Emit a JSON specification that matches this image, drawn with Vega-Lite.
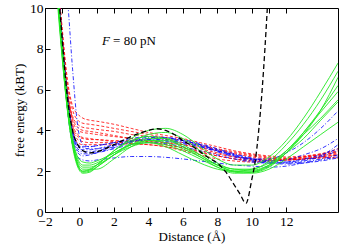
{
"$schema":"https://vega.github.io/schema/vega-lite/v6.json",
"width":293,"height":204,"autosize":"none",
"padding":{"left":45,"top":8,"right":8,"bottom":32},
"config":{"view":{"stroke":"#000","strokeWidth":1},"font":"Liberation Serif",
"axis":{"labelFont":"Liberation Serif","titleFont":"Liberation Serif","labelFontSize":13.5,"titleFontSize":13,"titleFontWeight":"normal","labelColor":"#000","titleColor":"#000","tickColor":"#000","domain":false,"grid":false}},
"datasets":{
"green":[
{"s":1,"x":-1.3,"y":11},{"s":1,"x":-1,"y":7.8},{"s":1,"x":-0.7,"y":5.2},{"s":1,"x":-0.4,"y":3.4},{"s":1,"x":-0.1,"y":2.3},{"s":1,"x":0.2,"y":2.0},{"s":1,"x":0.6,"y":2.05},{"s":1,"x":1,"y":2.3},{"s":1,"x":2,"y":3.0},{"s":1,"x":3,"y":3.6},{"s":1,"x":4,"y":4.0},{"s":1,"x":5,"y":4.1},{"s":1,"x":6,"y":3.8},{"s":1,"x":7,"y":3.2},{"s":1,"x":8,"y":2.6},{"s":1,"x":9,"y":2.3},{"s":1,"x":10,"y":2.3},{"s":1,"x":11,"y":2.7},{"s":1,"x":12,"y":3.5},{"s":1,"x":13,"y":4.6},{"s":1,"x":14,"y":5.9},{"s":1,"x":15,"y":7.3},
{"s":2,"x":-1.3,"y":11.5},{"s":2,"x":-1,"y":8.2},{"s":2,"x":-0.7,"y":5.5},{"s":2,"x":-0.4,"y":3.5},{"s":2,"x":-0.1,"y":2.3},{"s":2,"x":0.2,"y":1.95},{"s":2,"x":0.6,"y":2.0},{"s":2,"x":1,"y":2.2},{"s":2,"x":2,"y":2.8},{"s":2,"x":3,"y":3.4},{"s":2,"x":4,"y":3.8},{"s":2,"x":5,"y":3.9},{"s":2,"x":6,"y":3.6},{"s":2,"x":7,"y":3.0},{"s":2,"x":8,"y":2.4},{"s":2,"x":9,"y":2.1},{"s":2,"x":10,"y":2.1},{"s":2,"x":11,"y":2.5},{"s":2,"x":12,"y":3.3},{"s":2,"x":13,"y":4.3},{"s":2,"x":14,"y":5.5},{"s":2,"x":15,"y":6.9},
{"s":3,"x":-1.3,"y":10.8},{"s":3,"x":-1,"y":7.6},{"s":3,"x":-0.7,"y":5.0},{"s":3,"x":-0.4,"y":3.2},{"s":3,"x":-0.1,"y":2.2},{"s":3,"x":0.2,"y":1.9},{"s":3,"x":0.6,"y":1.95},{"s":3,"x":1,"y":2.2},{"s":3,"x":2,"y":2.8},{"s":3,"x":3,"y":3.3},{"s":3,"x":4,"y":3.6},{"s":3,"x":5,"y":3.6},{"s":3,"x":6,"y":3.3},{"s":3,"x":7,"y":2.8},{"s":3,"x":8,"y":2.3},{"s":3,"x":9,"y":2.0},{"s":3,"x":10,"y":1.95},{"s":3,"x":11,"y":2.2},{"s":3,"x":12,"y":2.9},{"s":3,"x":13,"y":3.9},{"s":3,"x":14,"y":5.0},{"s":3,"x":15,"y":6.2},
{"s":4,"x":-1.3,"y":11.2},{"s":4,"x":-1,"y":7.9},{"s":4,"x":-0.7,"y":5.3},{"s":4,"x":-0.4,"y":3.4},{"s":4,"x":-0.1,"y":2.4},{"s":4,"x":0.2,"y":2.1},{"s":4,"x":0.6,"y":2.1},{"s":4,"x":1,"y":2.1},{"s":4,"x":2,"y":2.6},{"s":4,"x":3,"y":3.2},{"s":4,"x":4,"y":3.5},{"s":4,"x":5,"y":3.5},{"s":4,"x":6,"y":3.2},{"s":4,"x":7,"y":2.8},{"s":4,"x":8,"y":2.3},{"s":4,"x":9,"y":2.0},{"s":4,"x":10,"y":2.0},{"s":4,"x":11,"y":2.3},{"s":4,"x":12,"y":3.0},{"s":4,"x":13,"y":3.9},{"s":4,"x":14,"y":4.9},{"s":4,"x":15,"y":5.9},
{"s":5,"x":-1.3,"y":11},{"s":5,"x":-1,"y":7.8},{"s":5,"x":-0.7,"y":5.2},{"s":5,"x":-0.4,"y":3.5},{"s":5,"x":-0.1,"y":2.6},{"s":5,"x":0.2,"y":2.3},{"s":5,"x":0.6,"y":2.3},{"s":5,"x":1,"y":2.4},{"s":5,"x":2,"y":2.9},{"s":5,"x":3,"y":3.3},{"s":5,"x":4,"y":3.5},{"s":5,"x":5,"y":3.4},{"s":5,"x":6,"y":3.1},{"s":5,"x":7,"y":2.7},{"s":5,"x":8,"y":2.3},{"s":5,"x":9,"y":2.1},{"s":5,"x":10,"y":2.05},{"s":5,"x":11,"y":2.3},{"s":5,"x":12,"y":2.9},{"s":5,"x":13,"y":3.6},{"s":5,"x":14,"y":4.5},{"s":5,"x":15,"y":5.4},
{"s":6,"x":-1.3,"y":10.5},{"s":6,"x":-1,"y":7.5},{"s":6,"x":-0.7,"y":5.0},{"s":6,"x":-0.4,"y":3.3},{"s":6,"x":-0.1,"y":2.5},{"s":6,"x":0.2,"y":2.2},{"s":6,"x":0.6,"y":2.2},{"s":6,"x":1,"y":2.3},{"s":6,"x":2,"y":2.8},{"s":6,"x":3,"y":3.2},{"s":6,"x":4,"y":3.4},{"s":6,"x":5,"y":3.3},{"s":6,"x":6,"y":3.0},{"s":6,"x":7,"y":2.6},{"s":6,"x":8,"y":2.2},{"s":6,"x":9,"y":1.95},{"s":6,"x":10,"y":1.9},{"s":6,"x":11,"y":2.1},{"s":6,"x":12,"y":2.6},{"s":6,"x":13,"y":3.2},{"s":6,"x":14,"y":3.8},{"s":6,"x":15,"y":4.4},
{"s":7,"x":-1.3,"y":11.3},{"s":7,"x":-1,"y":8.0},{"s":7,"x":-0.7,"y":5.4},{"s":7,"x":-0.4,"y":3.6},{"s":7,"x":-0.1,"y":2.7},{"s":7,"x":0.2,"y":2.45},{"s":7,"x":0.6,"y":2.4},{"s":7,"x":1,"y":2.5},{"s":7,"x":2,"y":2.9},{"s":7,"x":3,"y":3.3},{"s":7,"x":4,"y":3.4},{"s":7,"x":5,"y":3.2},{"s":7,"x":6,"y":2.8},{"s":7,"x":7,"y":2.4},{"s":7,"x":8,"y":2.1},{"s":7,"x":9,"y":2.0},{"s":7,"x":10,"y":2.1},{"s":7,"x":11,"y":2.4},{"s":7,"x":12,"y":3.0},{"s":7,"x":13,"y":3.8},{"s":7,"x":14,"y":4.6},{"s":7,"x":15,"y":5.5},
{"s":8,"x":-1.3,"y":10.9},{"s":8,"x":-1,"y":7.7},{"s":8,"x":-0.7,"y":5.1},{"s":8,"x":-0.4,"y":3.3},{"s":8,"x":-0.1,"y":2.3},{"s":8,"x":0.2,"y":2.0},{"s":8,"x":0.6,"y":2.1},{"s":8,"x":1,"y":2.3},{"s":8,"x":2,"y":3.0},{"s":8,"x":3,"y":3.5},{"s":8,"x":4,"y":3.7},{"s":8,"x":5,"y":3.6},{"s":8,"x":6,"y":3.2},{"s":8,"x":7,"y":2.7},{"s":8,"x":8,"y":2.2},{"s":8,"x":9,"y":1.9},{"s":8,"x":10,"y":1.95},{"s":8,"x":11,"y":2.25},{"s":8,"x":12,"y":2.9},{"s":8,"x":13,"y":3.8},{"s":8,"x":14,"y":5.0},{"s":8,"x":15,"y":6.6}
],
"red":[
{"s":1,"x":-1.3,"y":12},{"s":1,"x":-1,"y":9.0},{"s":1,"x":-0.7,"y":6.5},{"s":1,"x":-0.4,"y":5.2},{"s":1,"x":-0.1,"y":4.8},{"s":1,"x":0.2,"y":4.6},{"s":1,"x":0.6,"y":4.5},{"s":1,"x":1,"y":4.45},{"s":1,"x":2,"y":4.3},{"s":1,"x":3,"y":4.1},{"s":1,"x":4,"y":3.9},{"s":1,"x":5,"y":3.75},{"s":1,"x":6,"y":3.6},{"s":1,"x":7,"y":3.4},{"s":1,"x":8,"y":3.2},{"s":1,"x":9,"y":3.0},{"s":1,"x":10,"y":2.85},{"s":1,"x":11,"y":2.75},{"s":1,"x":12,"y":2.7},{"s":1,"x":13,"y":2.75},{"s":1,"x":14,"y":2.85},{"s":1,"x":15,"y":3.0},
{"s":2,"x":-1.3,"y":12},{"s":2,"x":-1,"y":8.8},{"s":2,"x":-0.7,"y":6.3},{"s":2,"x":-0.4,"y":5.0},{"s":2,"x":-0.1,"y":4.5},{"s":2,"x":0.2,"y":4.35},{"s":2,"x":0.6,"y":4.3},{"s":2,"x":1,"y":4.25},{"s":2,"x":2,"y":4.1},{"s":2,"x":3,"y":3.95},{"s":2,"x":4,"y":3.8},{"s":2,"x":5,"y":3.65},{"s":2,"x":6,"y":3.5},{"s":2,"x":7,"y":3.3},{"s":2,"x":8,"y":3.1},{"s":2,"x":9,"y":2.95},{"s":2,"x":10,"y":2.8},{"s":2,"x":11,"y":2.7},{"s":2,"x":12,"y":2.65},{"s":2,"x":13,"y":2.7},{"s":2,"x":14,"y":2.8},{"s":2,"x":15,"y":2.95},
{"s":3,"x":-1.3,"y":11.8},{"s":3,"x":-1,"y":8.6},{"s":3,"x":-0.7,"y":6.0},{"s":3,"x":-0.4,"y":4.7},{"s":3,"x":-0.1,"y":4.3},{"s":3,"x":0.2,"y":4.15},{"s":3,"x":0.6,"y":4.1},{"s":3,"x":1,"y":4.05},{"s":3,"x":2,"y":3.95},{"s":3,"x":3,"y":3.8},{"s":3,"x":4,"y":3.7},{"s":3,"x":5,"y":3.55},{"s":3,"x":6,"y":3.4},{"s":3,"x":7,"y":3.25},{"s":3,"x":8,"y":3.05},{"s":3,"x":9,"y":2.9},{"s":3,"x":10,"y":2.75},{"s":3,"x":11,"y":2.65},{"s":3,"x":12,"y":2.6},{"s":3,"x":13,"y":2.65},{"s":3,"x":14,"y":2.75},{"s":3,"x":15,"y":2.85},
{"s":4,"x":-1.3,"y":11.6},{"s":4,"x":-1,"y":8.4},{"s":4,"x":-0.7,"y":5.8},{"s":4,"x":-0.4,"y":4.5},{"s":4,"x":-0.1,"y":4.0},{"s":4,"x":0.2,"y":3.9},{"s":4,"x":0.6,"y":3.85},{"s":4,"x":1,"y":3.8},{"s":4,"x":2,"y":3.7},{"s":4,"x":3,"y":3.6},{"s":4,"x":4,"y":3.5},{"s":4,"x":5,"y":3.4},{"s":4,"x":6,"y":3.3},{"s":4,"x":7,"y":3.15},{"s":4,"x":8,"y":3.0},{"s":4,"x":9,"y":2.85},{"s":4,"x":10,"y":2.7},{"s":4,"x":11,"y":2.6},{"s":4,"x":12,"y":2.6},{"s":4,"x":13,"y":2.7},{"s":4,"x":14,"y":2.85},{"s":4,"x":15,"y":3.1},
{"s":5,"x":-1.3,"y":11.5},{"s":5,"x":-1,"y":8.3},{"s":5,"x":-0.7,"y":5.6},{"s":5,"x":-0.4,"y":4.2},{"s":5,"x":-0.1,"y":3.7},{"s":5,"x":0.2,"y":3.6},{"s":5,"x":0.6,"y":3.55},{"s":5,"x":1,"y":3.55},{"s":5,"x":2,"y":3.5},{"s":5,"x":3,"y":3.5},{"s":5,"x":4,"y":3.45},{"s":5,"x":5,"y":3.4},{"s":5,"x":6,"y":3.3},{"s":5,"x":7,"y":3.1},{"s":5,"x":8,"y":2.9},{"s":5,"x":9,"y":2.7},{"s":5,"x":10,"y":2.6},{"s":5,"x":11,"y":2.55},{"s":5,"x":12,"y":2.55},{"s":5,"x":13,"y":2.6},{"s":5,"x":14,"y":2.7},{"s":5,"x":15,"y":2.8},
{"s":6,"x":-1.3,"y":11.4},{"s":6,"x":-1,"y":8.2},{"s":6,"x":-0.7,"y":5.5},{"s":6,"x":-0.4,"y":4.1},{"s":6,"x":-0.1,"y":3.55},{"s":6,"x":0.2,"y":3.45},{"s":6,"x":0.6,"y":3.4},{"s":6,"x":1,"y":3.4},{"s":6,"x":2,"y":3.4},{"s":6,"x":3,"y":3.45},{"s":6,"x":4,"y":3.4},{"s":6,"x":5,"y":3.3},{"s":6,"x":6,"y":3.15},{"s":6,"x":7,"y":2.95},{"s":6,"x":8,"y":2.75},{"s":6,"x":9,"y":2.6},{"s":6,"x":10,"y":2.5},{"s":6,"x":11,"y":2.5},{"s":6,"x":12,"y":2.55},{"s":6,"x":13,"y":2.6},{"s":6,"x":14,"y":2.65},{"s":6,"x":15,"y":2.7},
{"s":7,"x":-1.3,"y":11.6},{"s":7,"x":-1,"y":8.4},{"s":7,"x":-0.7,"y":5.7},{"s":7,"x":-0.4,"y":4.3},{"s":7,"x":-0.1,"y":3.8},{"s":7,"x":0.2,"y":3.65},{"s":7,"x":0.6,"y":3.6},{"s":7,"x":1,"y":3.55},{"s":7,"x":2,"y":3.45},{"s":7,"x":3,"y":3.35},{"s":7,"x":4,"y":3.3},{"s":7,"x":5,"y":3.2},{"s":7,"x":6,"y":3.05},{"s":7,"x":7,"y":2.9},{"s":7,"x":8,"y":2.75},{"s":7,"x":9,"y":2.6},{"s":7,"x":10,"y":2.55},{"s":7,"x":11,"y":2.55},{"s":7,"x":12,"y":2.6},{"s":7,"x":13,"y":2.7},{"s":7,"x":14,"y":2.8},{"s":7,"x":15,"y":2.9},
{"s":8,"x":-1.3,"y":11.3},{"s":8,"x":-1,"y":8.1},{"s":8,"x":-0.7,"y":5.4},{"s":8,"x":-0.4,"y":3.9},{"s":8,"x":-0.1,"y":3.4},{"s":8,"x":0.2,"y":3.3},{"s":8,"x":0.6,"y":3.3},{"s":8,"x":1,"y":3.3},{"s":8,"x":2,"y":3.3},{"s":8,"x":3,"y":3.35},{"s":8,"x":4,"y":3.3},{"s":8,"x":5,"y":3.2},{"s":8,"x":6,"y":3.0},{"s":8,"x":7,"y":2.8},{"s":8,"x":8,"y":2.6},{"s":8,"x":9,"y":2.5},{"s":8,"x":10,"y":2.45},{"s":8,"x":11,"y":2.5},{"s":8,"x":12,"y":2.55},{"s":8,"x":13,"y":2.6},{"s":8,"x":14,"y":2.65},{"s":8,"x":15,"y":2.65},
{"s":9,"x":-1.3,"y":11.7},{"s":9,"x":-1,"y":8.5},{"s":9,"x":-0.7,"y":5.9},{"s":9,"x":-0.4,"y":4.6},{"s":9,"x":-0.1,"y":4.15},{"s":9,"x":0.2,"y":4.0},{"s":9,"x":0.6,"y":3.95},{"s":9,"x":1,"y":3.9},{"s":9,"x":2,"y":3.75},{"s":9,"x":3,"y":3.6},{"s":9,"x":4,"y":3.45},{"s":9,"x":5,"y":3.3},{"s":9,"x":6,"y":3.15},{"s":9,"x":7,"y":3.0},{"s":9,"x":8,"y":2.85},{"s":9,"x":9,"y":2.7},{"s":9,"x":10,"y":2.6},{"s":9,"x":11,"y":2.55},{"s":9,"x":12,"y":2.55},{"s":9,"x":13,"y":2.6},{"s":9,"x":14,"y":2.7},{"s":9,"x":15,"y":2.8}
],
"blue":[
{"s":1,"x":-1.3,"y":11},{"s":1,"x":-1,"y":7.8},{"s":1,"x":-0.7,"y":5.0},{"s":1,"x":-0.4,"y":3.3},{"s":1,"x":-0.1,"y":2.7},{"s":1,"x":0.2,"y":2.55},{"s":1,"x":0.6,"y":2.5},{"s":1,"x":1,"y":2.55},{"s":1,"x":2,"y":2.65},{"s":1,"x":3,"y":2.72},{"s":1,"x":4,"y":2.72},{"s":1,"x":5,"y":2.68},{"s":1,"x":6,"y":2.6},{"s":1,"x":7,"y":2.5},{"s":1,"x":8,"y":2.4},{"s":1,"x":9,"y":2.3},{"s":1,"x":10,"y":2.25},{"s":1,"x":11,"y":2.2},{"s":1,"x":12,"y":2.25},{"s":1,"x":13,"y":2.4},{"s":1,"x":14,"y":2.55},{"s":1,"x":15,"y":2.7},
{"s":2,"x":-1.3,"y":11.5},{"s":2,"x":-1,"y":8.2},{"s":2,"x":-0.7,"y":5.5},{"s":2,"x":-0.4,"y":3.8},{"s":2,"x":-0.1,"y":3.1},{"s":2,"x":0.2,"y":2.95},{"s":2,"x":0.6,"y":2.95},{"s":2,"x":1,"y":3.0},{"s":2,"x":2,"y":3.2},{"s":2,"x":3,"y":3.45},{"s":2,"x":4,"y":3.6},{"s":2,"x":5,"y":3.6},{"s":2,"x":6,"y":3.5},{"s":2,"x":7,"y":3.3},{"s":2,"x":8,"y":3.0},{"s":2,"x":9,"y":2.75},{"s":2,"x":10,"y":2.55},{"s":2,"x":11,"y":2.4},{"s":2,"x":12,"y":2.4},{"s":2,"x":13,"y":2.5},{"s":2,"x":14,"y":2.7},{"s":2,"x":15,"y":3.0},
{"s":3,"x":-1.3,"y":11.6},{"s":3,"x":-1,"y":8.3},{"s":3,"x":-0.7,"y":5.6},{"s":3,"x":-0.4,"y":3.9},{"s":3,"x":-0.1,"y":3.3},{"s":3,"x":0.2,"y":3.15},{"s":3,"x":0.6,"y":3.1},{"s":3,"x":1,"y":3.1},{"s":3,"x":2,"y":3.25},{"s":3,"x":3,"y":3.45},{"s":3,"x":4,"y":3.55},{"s":3,"x":5,"y":3.55},{"s":3,"x":6,"y":3.45},{"s":3,"x":7,"y":3.25},{"s":3,"x":8,"y":3.0},{"s":3,"x":9,"y":2.75},{"s":3,"x":10,"y":2.6},{"s":3,"x":11,"y":2.5},{"s":3,"x":12,"y":2.55},{"s":3,"x":13,"y":2.8},{"s":3,"x":14,"y":3.1},{"s":3,"x":15,"y":3.6},
{"s":4,"x":-1.3,"y":11.4},{"s":4,"x":-1,"y":8.1},{"s":4,"x":-0.7,"y":5.4},{"s":4,"x":-0.4,"y":3.7},{"s":4,"x":-0.1,"y":3.0},{"s":4,"x":0.2,"y":2.85},{"s":4,"x":0.6,"y":2.85},{"s":4,"x":1,"y":2.9},{"s":4,"x":2,"y":3.1},{"s":4,"x":3,"y":3.3},{"s":4,"x":4,"y":3.4},{"s":4,"x":5,"y":3.35},{"s":4,"x":6,"y":3.2},{"s":4,"x":7,"y":3.0},{"s":4,"x":8,"y":2.8},{"s":4,"x":9,"y":2.6},{"s":4,"x":10,"y":2.45},{"s":4,"x":11,"y":2.4},{"s":4,"x":12,"y":2.45},{"s":4,"x":13,"y":2.6},{"s":4,"x":14,"y":2.8},{"s":4,"x":15,"y":3.1},
{"s":5,"x":-1.3,"y":11.8},{"s":5,"x":-1,"y":8.5},{"s":5,"x":-0.7,"y":5.8},{"s":5,"x":-0.4,"y":4.0},{"s":5,"x":-0.1,"y":3.3},{"s":5,"x":0.2,"y":3.2},{"s":5,"x":0.6,"y":3.2},{"s":5,"x":1,"y":3.25},{"s":5,"x":2,"y":3.4},{"s":5,"x":3,"y":3.6},{"s":5,"x":4,"y":3.7},{"s":5,"x":5,"y":3.65},{"s":5,"x":6,"y":3.5},{"s":5,"x":7,"y":3.3},{"s":5,"x":8,"y":3.05},{"s":5,"x":9,"y":2.8},{"s":5,"x":10,"y":2.6},{"s":5,"x":11,"y":2.6},{"s":5,"x":12,"y":2.9},{"s":5,"x":13,"y":3.4},{"s":5,"x":14,"y":4.1},{"s":5,"x":15,"y":4.95},
{"s":6,"x":-1.3,"y":15},{"s":6,"x":-1,"y":13},{"s":6,"x":-0.7,"y":10.5},{"s":6,"x":-0.4,"y":7},{"s":6,"x":-0.1,"y":4.2},{"s":6,"x":0.2,"y":3.3},{"s":6,"x":0.6,"y":3.2},{"s":6,"x":1,"y":3.25},{"s":6,"x":2,"y":3.4},{"s":6,"x":3,"y":3.5},{"s":6,"x":4,"y":3.5},{"s":6,"x":5,"y":3.45},{"s":6,"x":6,"y":3.35},{"s":6,"x":7,"y":3.2},{"s":6,"x":8,"y":3.0},{"s":6,"x":9,"y":2.8},{"s":6,"x":10,"y":2.6},{"s":6,"x":11,"y":2.45},{"s":6,"x":12,"y":2.4},{"s":6,"x":13,"y":2.45},{"s":6,"x":14,"y":2.6},{"s":6,"x":15,"y":2.8},
{"s":7,"x":-1.3,"y":11.2},{"s":7,"x":-1,"y":8.0},{"s":7,"x":-0.7,"y":5.3},{"s":7,"x":-0.4,"y":3.6},{"s":7,"x":-0.1,"y":2.9},{"s":7,"x":0.2,"y":2.75},{"s":7,"x":0.6,"y":2.8},{"s":7,"x":1,"y":2.9},{"s":7,"x":2,"y":3.15},{"s":7,"x":3,"y":3.4},{"s":7,"x":4,"y":3.55},{"s":7,"x":5,"y":3.5},{"s":7,"x":6,"y":3.4},{"s":7,"x":7,"y":3.2},{"s":7,"x":8,"y":2.95},{"s":7,"x":9,"y":2.7},{"s":7,"x":10,"y":2.5},{"s":7,"x":11,"y":2.4},{"s":7,"x":12,"y":2.35},{"s":7,"x":13,"y":2.4},{"s":7,"x":14,"y":2.5},{"s":7,"x":15,"y":2.65},
{"s":8,"x":-1.3,"y":11.3},{"s":8,"x":-1,"y":8.1},{"s":8,"x":-0.7,"y":5.5},{"s":8,"x":-0.4,"y":3.8},{"s":8,"x":-0.1,"y":3.2},{"s":8,"x":0.2,"y":3.05},{"s":8,"x":0.6,"y":3.05},{"s":8,"x":1,"y":3.1},{"s":8,"x":2,"y":3.3},{"s":8,"x":3,"y":3.5},{"s":8,"x":4,"y":3.65},{"s":8,"x":5,"y":3.65},{"s":8,"x":6,"y":3.55},{"s":8,"x":7,"y":3.35},{"s":8,"x":8,"y":3.1},{"s":8,"x":9,"y":2.85},{"s":8,"x":10,"y":2.65},{"s":8,"x":11,"y":2.5},{"s":8,"x":12,"y":2.45},{"s":8,"x":13,"y":2.55},{"s":8,"x":14,"y":2.75},{"s":8,"x":15,"y":3.3}
],
"black":[
{"x":-1.3,"y":11.5},{"x":-1.1,"y":9.5},{"x":-0.9,"y":7.4},{"x":-0.7,"y":5.6},{"x":-0.4,"y":4.0},{"x":-0.1,"y":3.3},{"x":0.2,"y":3.0},{"x":0.6,"y":2.9},{"x":1,"y":2.95},{"x":2,"y":3.3},{"x":3,"y":3.7},{"x":4,"y":4.0},{"x":4.5,"y":4.08},{"x":5,"y":4.0},{"x":5.5,"y":3.8},{"x":6,"y":3.5},{"x":6.6,"y":3.2},{"x":7,"y":2.95},{"x":7.5,"y":2.65},{"x":8,"y":2.4},{"x":8.5,"y":1.95},{"x":9,"y":1.3},{"x":9.3,"y":0.9},{"x":9.66,"y":0.43},{"x":10,"y":1.6},{"x":10.2,"y":2.5},{"x":10.4,"y":4},{"x":10.6,"y":6},{"x":10.76,"y":8},{"x":10.9,"y":10},{"x":11,"y":11.5}
]
},
"layer":[
{"data":{"name":"red"},
 "mark":{"type":"line","color":"#ff0000","strokeWidth":0.8,"strokeDash":[3,2],"interpolate":"monotone","clip":true},
 "encoding":{
  "x":{"field":"x","type":"quantitative","scale":{"domain":[-2,15],"nice":false,"zero":false},
   "axis":{"orient":"bottom","title":"Distance (Å)","values":[-2,-1,0,1,2,3,4,5,6,7,8,9,10,11,12],"labelExpr":"datum.value % 2 === 0 ? datum.label : ''","tickSize":-5,"labelPadding":7,"titlePadding":3,"labelFlush":false,"labelOverlap":false,
    "encode":{"ticks":{"update":{"y2":{"signal":"datum.value % 2 === 0 ? -5 : -3"}}},"labels":{"update":{"dx":{"signal":"datum.value === -2 ? 4 : 0"}}}}}},
  "y":{"field":"y","type":"quantitative","scale":{"domain":[0,10],"nice":false},
   "axis":{"orient":"left","title":"free energy (kBT)","values":[0,1,2,3,4,5,6,7,8,9,10],"labelExpr":"datum.value % 2 === 0 ? datum.label : ''","tickSize":-5,"labelPadding":7,"titlePadding":3,"labelFlush":false,"labelOverlap":false,
    "encode":{"ticks":{"update":{"x2":{"signal":"datum.value % 2 === 0 ? 5 : 3"}}},"labels":{"update":{"dy":{"signal":"datum.value === 0 ? -3 : 0"}}}}}},
  "detail":{"field":"s","type":"nominal"}}},
{"data":{"name":"blue"},
 "mark":{"type":"line","color":"#0000ff","strokeWidth":0.8,"strokeDash":[4,2,1,2],"interpolate":"monotone","clip":true},
 "encoding":{
  "x":{"field":"x","type":"quantitative",
   "axis":{"orient":"top","title":null,"values":[-2,-1,0,1,2,3,4,5,6,7,8,9,10,11,12],"labels":false,"tickSize":-5,
    "encode":{"ticks":{"update":{"y2":{"signal":"datum.value % 2 === 0 ? 5 : 3"}}}}}},
  "y":{"field":"y","type":"quantitative"},
  "detail":{"field":"s","type":"nominal"}}},
{"data":{"name":"green"},
 "mark":{"type":"line","color":"#22e822","strokeWidth":0.9,"interpolate":"monotone","clip":true},
 "encoding":{
  "x":{"field":"x","type":"quantitative","axis":null},
  "y":{"field":"y","type":"quantitative"},
  "detail":{"field":"s","type":"nominal"}}},
{"data":{"name":"black"},
 "mark":{"type":"line","color":"#000000","strokeWidth":1.3,"strokeDash":[5,3],"interpolate":"monotone","clip":true},
 "encoding":{
  "x":{"field":"x","type":"quantitative","axis":null},
  "y":{"field":"y","type":"quantitative"}}},
{"data":{"values":[{"t":"F"}]},
 "mark":{"type":"text","align":"left","baseline":"middle","fontSize":13,"fontStyle":"italic","font":"Liberation Serif"},
 "encoding":{"x":{"datum":1.3,"type":"quantitative","axis":null},"y":{"datum":8.38,"type":"quantitative"},"text":{"field":"t"}}},
{"data":{"values":[{"t":"= 80 pN"}]},
 "mark":{"type":"text","align":"left","baseline":"middle","fontSize":13,"font":"Liberation Serif"},
 "encoding":{"x":{"datum":1.95,"type":"quantitative","axis":null},"y":{"datum":8.38,"type":"quantitative"},"text":{"field":"t"}}}
],
"resolve":{"axis":{"x":"independent"}}
}
